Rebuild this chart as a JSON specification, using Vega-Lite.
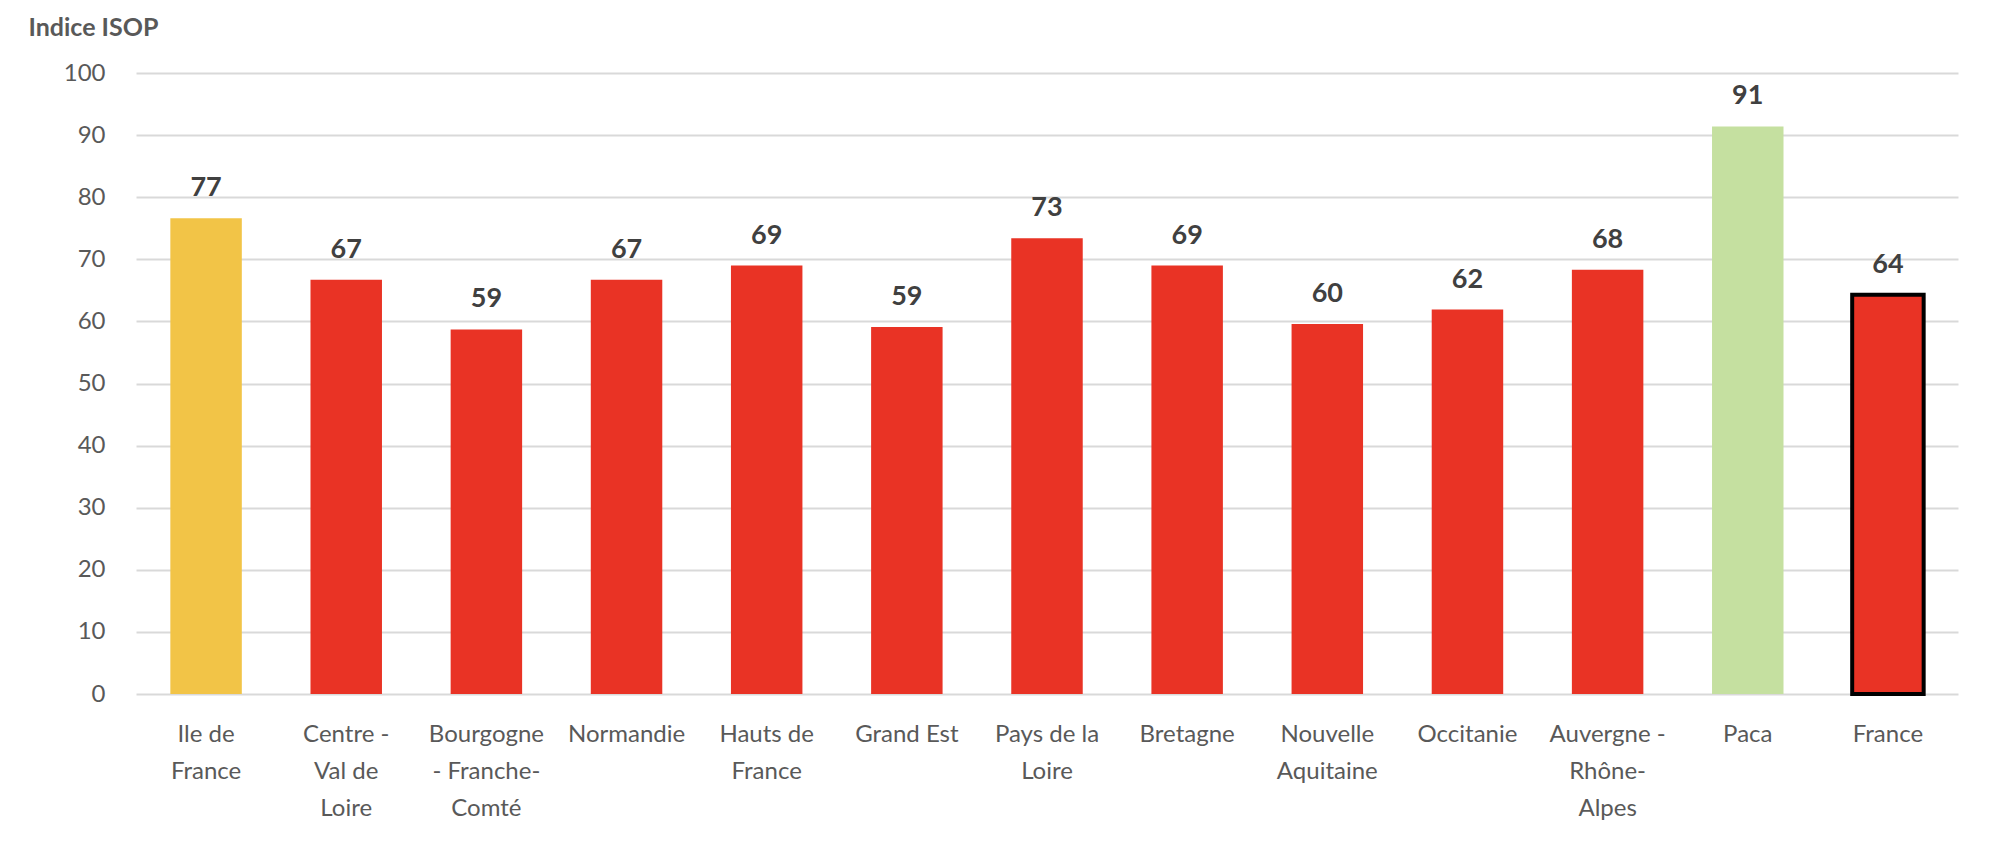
{
  "$schema": "https://vega.github.io/schema/vega-lite/v6.json",
  "width": 1822,
  "height": 621,
  "autosize": {"type": "none"},
  "padding": {"left": 136, "top": 73, "right": 42, "bottom": 164},
  "background": "white",
  "config": {
    "view": {"stroke": null},
    "font": "Lato"
  },
  "data": {
    "values": [
      {"region": "Ile de|France", "isop": 76.6, "niveau": "moyen"},
      {"region": "Centre -|Val de|Loire", "isop": 66.7, "niveau": "faible"},
      {"region": "Bourgogne|- Franche-|Comté", "isop": 58.7, "niveau": "faible"},
      {"region": "Normandie", "isop": 66.7, "niveau": "faible"},
      {"region": "Hauts de|France", "isop": 69.0, "niveau": "faible"},
      {"region": "Grand Est", "isop": 59.1, "niveau": "faible"},
      {"region": "Pays de la|Loire", "isop": 73.4, "niveau": "faible"},
      {"region": "Bretagne", "isop": 69.0, "niveau": "faible"},
      {"region": "Nouvelle|Aquitaine", "isop": 59.6, "niveau": "faible"},
      {"region": "Occitanie", "isop": 61.9, "niveau": "faible"},
      {"region": "Auvergne -|Rhône-|Alpes", "isop": 68.3, "niveau": "faible"},
      {"region": "Paca", "isop": 91.4, "niveau": "élevé"},
      {"region": "France", "isop": 64.3, "niveau": "faible"}
    ]
  },
  "encoding": {
    "x": {
      "field": "region",
      "type": "nominal",
      "sort": null,
      "title": null,
      "scale": {"paddingInner": 0.49, "paddingOuter": 0.245},
      "axis": {
        "labelExpr": "split(datum.label, '|')",
        "labelAngle": 0,
        "labelFont": "Lato",
        "labelFontSize": 24,
        "labelColor": "#595959",
        "labelLineHeight": 37,
        "labelPadding": 28,
        "labelBaseline": "top",
        "labelLimit": 300,
        "ticks": false,
        "domain": false
      }
    },
    "y": {
      "field": "isop",
      "type": "quantitative",
      "scale": {"domain": [0, 100]},
      "axis": {
        "values": [0, 10, 20, 30, 40, 50, 60, 70, 80, 90, 100],
        "title": "Indice ISOP",
        "titleAngle": 0,
        "titleX": -108,
        "titleY": -46,
        "titleAlign": "left",
        "titleBaseline": "middle",
        "titleFont": "Lato",
        "titleFontSize": 25,
        "titleFontWeight": "bold",
        "titleColor": "#595959",
        "labelFont": "Lato",
        "labelFontSize": 24,
        "labelColor": "#595959",
        "labelPadding": 31,
        "ticks": false,
        "domain": false,
        "grid": true,
        "gridColor": "#D9D9D9",
        "gridWidth": 2
      }
    }
  },
  "layer": [
    {
      "mark": {"type": "bar"},
      "encoding": {
        "color": {
          "field": "niveau",
          "type": "nominal",
          "scale": {
            "domain": ["moyen", "faible", "élevé"],
            "range": ["#F2C447", "#E93325", "#C5E0A0"]
          },
          "legend": null
        },
        "stroke": {
          "condition": {"test": "datum.region === 'France'", "value": "black"},
          "value": null
        },
        "strokeWidth": {
          "condition": {"test": "datum.region === 'France'", "value": 4},
          "value": 0
        }
      }
    },
    {
      "mark": {
        "type": "text",
        "baseline": "alphabetic",
        "dy": -22,
        "font": "Lato",
        "fontSize": 27,
        "fontWeight": "bold",
        "color": "#404040"
      },
      "encoding": {
        "text": {"field": "isop", "type": "quantitative", "format": ".0f"}
      }
    }
  ]
}
